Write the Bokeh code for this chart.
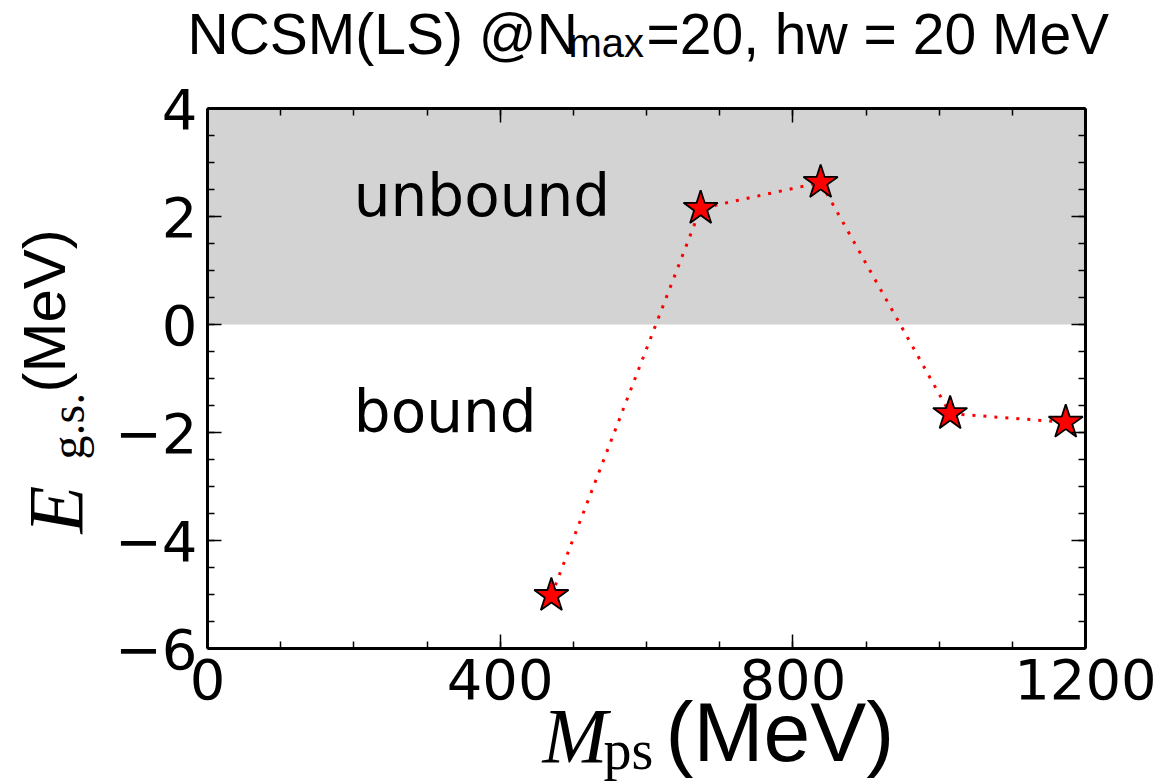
from bokeh.plotting import figure
from bokeh.models import Range1d, FixedTicker, LinearAxis, Label
from bokeh.core.properties import value
from bokeh.embed import file_html
from bokeh.resources import INLINE

# ---- data ----
m_ps = [470, 674, 838, 1015, 1173]          # MeV
e_gs = [-5.02, 2.15, 2.63, -1.65, -1.81]    # MeV
x_major = [0, 400, 800, 1200]
x_minor = [100 * i for i in range(13)]
y_major = [-6, -4, -2, 0, 2, 4]
y_minor = [-6 + 0.5 * i for i in range(21)]
y_labels = {-6: "\u22126", -4: "\u22124", -2: "\u22122", 0: "0", 2: "2", 4: "4"}
x_labels = {0: "0", 400: "400", 800: "800", 1200: "1200"}
region_names = ["unbound", "bound"]
region_text_y = [2.0, -2.0]
region_text_x = [200, 200]
unbound_lo, unbound_hi = 0, 4

# ---- layout (canvas px) ----
W, H = 1173, 783
FL, FR, FT, FB = 207, 1085, 108, 648   # plot box
XMIN, XMAX, YMIN, YMAX = 0, 1200, -6, 4
sx = (FR - FL) / (XMAX - XMIN)
sy = (FB - FT) / (YMAX - YMIN)
x0 = XMIN - FL / sx
x1 = XMAX + (W - FR) / sx
y1 = YMAX + FT / sy
y0 = YMIN - (H - FB) / sy

p = figure(width=W, height=H, output_backend="svg", toolbar_location=None,
           x_range=Range1d(x0, x1), y_range=Range1d(y0, y1),
           min_border=0, min_border_left=0, min_border_right=0,
           min_border_top=0, min_border_bottom=0,
           x_axis_location=None, y_axis_location=None)
p.title.visible = False
p.outline_line_color = None
p.xgrid.visible = False
p.ygrid.visible = False
p.background_fill_color = "white"
p.border_fill_color = "white"

# unbound region
p.quad(left=[XMIN], right=[XMAX], bottom=[unbound_lo], top=[unbound_hi],
       fill_color="#d3d3d3", line_color=None)

p.line(m_ps, e_gs, line_color="red", line_width=3, line_dash="3 8")
p.scatter(m_ps, e_gs, marker="star", size=36, fill_color="red",
          line_color="black", line_width=1.8)

p.text(x=region_text_x, y=region_text_y, text=region_names,
       text_font=value("DejaVu Sans"), text_font_size="58px",
       text_align="left", text_baseline="alphabetic", text_color="black",
       y_offset=-21)

def make_axis(loc, ticks, minor, labels, fixed, bounds):
    ax = LinearAxis(ticker=FixedTicker(ticks=ticks, minor_ticks=minor),
                    fixed_location=fixed, bounds=bounds)
    ax.axis_line_width = 3
    ax.axis_line_color = "black"
    ax.major_tick_in = 14
    ax.major_tick_out = 0
    ax.minor_tick_in = 7
    ax.minor_tick_out = 0
    ax.major_tick_line_width = 1.5
    ax.minor_tick_line_width = 1.5
    if labels:
        ax.major_label_overrides = labels
        ax.major_label_text_font = "DejaVu Sans"
        ax.major_label_text_font_size = "56px"
        ax.major_label_text_color = "black"
        ax.major_label_standoff = 10
    else:
        ax.major_label_overrides = {t: "" for t in ticks}
        ax.major_label_standoff = 0
    p.add_layout(ax, loc)
    return ax

make_axis("below", x_major, x_minor, x_labels, YMIN, (XMIN, XMAX))
make_axis("left", y_major, y_minor, y_labels, XMIN, (YMIN, YMAX))
make_axis("above", x_major, x_minor, None, YMAX, (XMIN, XMAX))
make_axis("right", y_major, y_minor, None, XMAX, (YMIN, YMAX))

def lab(text, ax_, ay_, font, size, style="normal", angle=0):
    # ax_, ay_: anchor in canvas px (top-left origin)
    p.add_layout(Label(x=ax_, y=ay_, x_units="canvas", y_units="canvas",
                       text=text, text_font=font,
                       text_font_size=f"{size}px", text_font_style=style,
                       text_align="left", text_baseline="alphabetic",
                       angle=angle, angle_units="deg", text_color="black"))

# title: NCSM(LS) @N_max=20, hw = 20 MeV
lab("NCSM(LS) @N", 187, 33, "Liberation Sans", 57)
lab("max", 568, 42, "Liberation Sans", 40)
lab("=20, hw = 20 MeV", 646, 33, "Liberation Sans", 57)

# x label: M_ps (MeV)
lab("M", 542, 735, "Liberation Serif", 78, "italic")
lab("ps", 603, 749, "Liberation Serif", 56)
lab("(MeV)", 665, 731, "Liberation Sans", 84)

# y label: E_g.s.  (MeV)
lab("E", 55, 533, "Liberation Serif", 78, "italic", 90)
lab("g.s.", 67, 459, "Liberation Serif", 48, "normal", 90)
lab("(MeV)", 44, 392, "Liberation Sans", 60, "normal", 90)

open("out.html", "w").write(file_html(p, INLINE))
